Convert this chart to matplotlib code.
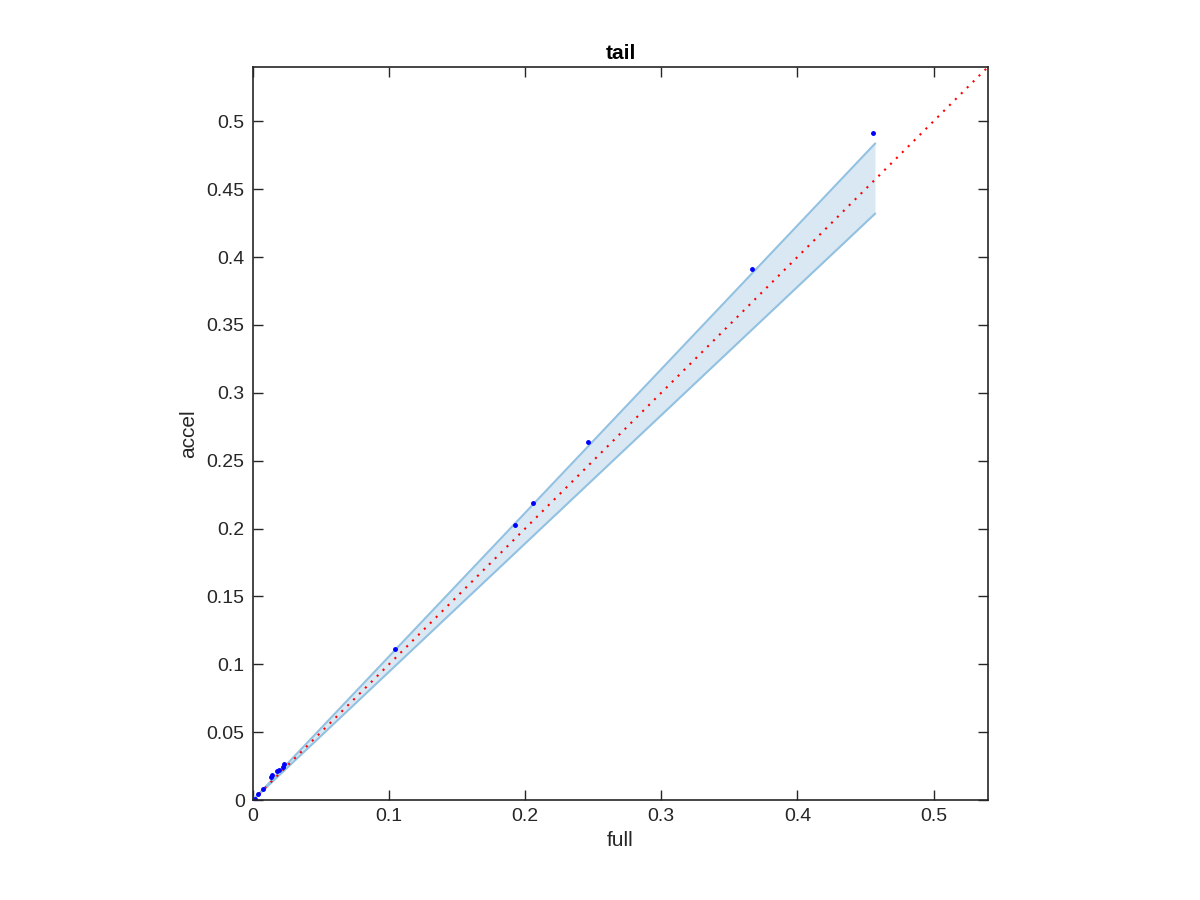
import numpy as np
import matplotlib
matplotlib.use('Agg')
import matplotlib.pyplot as plt

plt.rcParams['font.family'] = ['Liberation Sans', 'DejaVu Sans']

# data
full = [0.0, 0.0015, 0.0039, 0.0076, 0.0130, 0.0142, 0.0176, 0.0190, 0.0218, 0.0229,
        0.1041, 0.1928, 0.2060, 0.2463, 0.3666, 0.4555]
accel = [0.0, 0.0005, 0.0044, 0.0083, 0.0172, 0.0184, 0.0216, 0.0223, 0.0245, 0.0262,
         0.1112, 0.2025, 0.2187, 0.2636, 0.3910, 0.4910]
band_end = 0.457
band_hi = 1.058
band_lo = 0.945
lim = 0.54

fig = plt.figure(figsize=(12, 9), dpi=100)
ax = fig.add_axes([0.2108, 0.1111, 0.6125, 0.8145])

# confidence band around y = x
bx = np.array([0.0, band_end])
ax.fill_between(bx, bx * band_lo, bx * band_hi, color='#dae8f4', lw=0)
ax.plot(bx, bx * band_hi, color='#92c1e1', lw=1.5)
ax.plot(bx, bx * band_lo, color='#92c1e1', lw=1.5)

# identity line
ax.plot([0, lim], [0, lim], color='red', ls=(0, (1, 3)), lw=1.5)

# points
ax.plot(full, accel, '.', color='blue', ms=5)

ax.set_xlim(0, lim)
ax.set_ylim(0, lim)
ax.set_xticks(np.arange(0, 0.51, 0.1))
ax.set_xticklabels(['0', '0.1', '0.2', '0.3', '0.4', '0.5'])
yt = np.arange(0, 0.501, 0.05)
ax.set_yticks(yt)
ax.set_yticklabels(['0'] + ['%g' % round(v, 2) for v in yt[1:]])
ax.tick_params(direction='in', top=True, right=True, length=7, width=1,
               labelsize=14, colors='#262626', pad=6)
for s in ax.spines.values():
    s.set_linewidth(1.2)
    s.set_color('#262626')

ax.set_xlabel('full', fontsize=15, color='#262626', labelpad=4)
ax.set_ylabel('accel', fontsize=15, color='#262626', labelpad=6)
ax.set_title('tail', fontsize=15, fontweight='bold', pad=6)

fig.savefig('out.png', dpi=100)
